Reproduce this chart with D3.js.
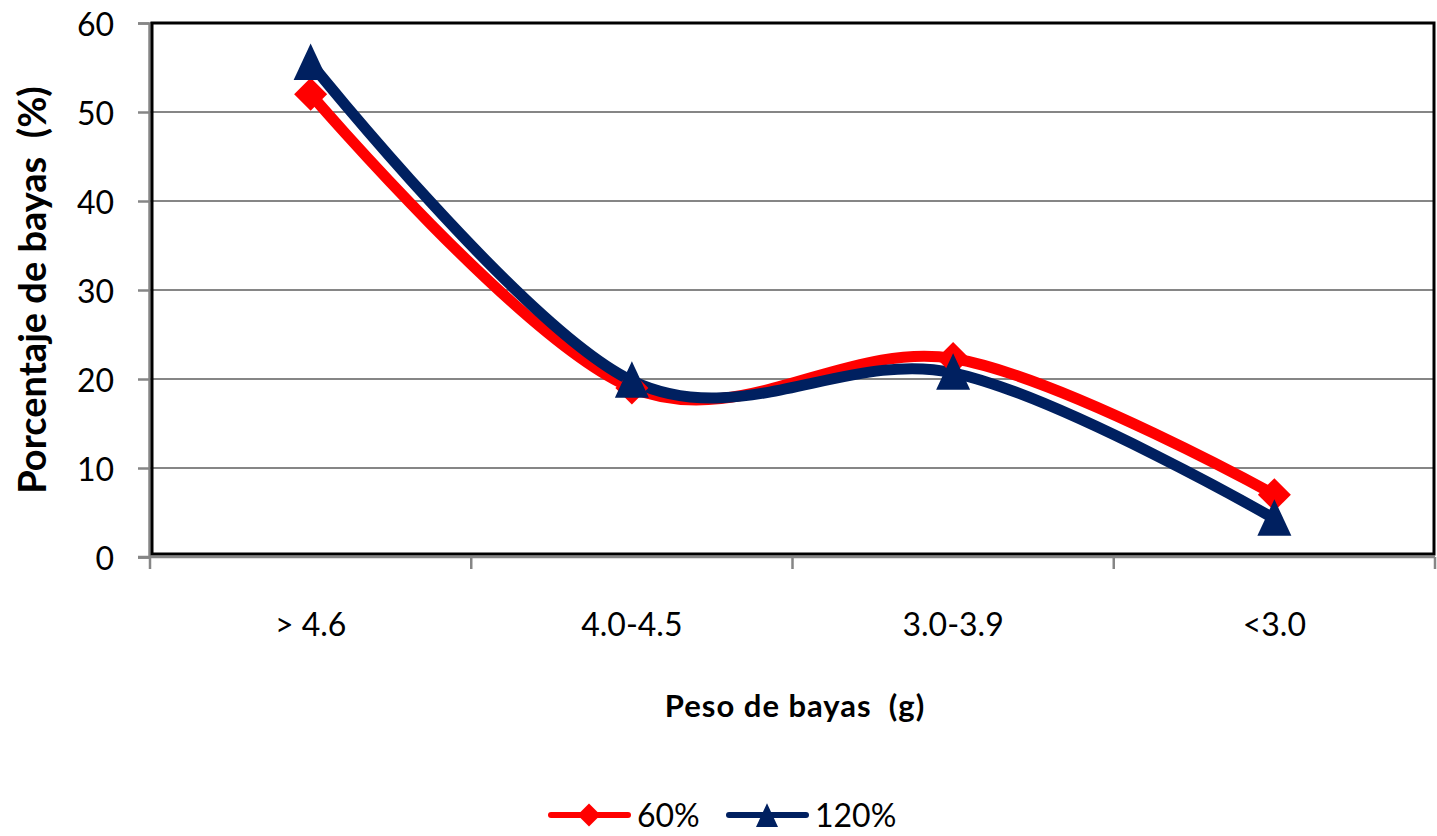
<!DOCTYPE html>
<html>
<head>
<meta charset="utf-8">
<script src="https://cdn.jsdelivr.net/npm/d3@7"></script>
<style>
  html, body { margin: 0; padding: 0; background: #fff; }
  svg { display: block; font-family: Lato, "Open Sans", sans-serif; }
</style>
</head>
<body>
<svg id="chart" width="1437" height="836"></svg>
<script>
// Berry weight classes and share of berries per class (%)
const categories = ["> 4.6", "4.0-4.5", "3.0-3.9", "<3.0"];
const seriesNames = ["60%", "120%"];
const values60 = [52.0, 19.0, 22.3, 7.0];
const values120 = [55.5, 19.8, 20.7, 4.3];
const yTicks = [0, 10, 20, 30, 40, 50, 60];

const colors = { "60%": "#ff0000", "120%": "#002060" };
const series = [
  { name: seriesNames[0], values: values60, marker: "diamond" },
  { name: seriesNames[1], values: values120, marker: "triangle" }
];

const svg = d3.select("#chart");
const margin = { left: 150, right: 1435, top: 23, bottom: 557 };

const x = d3.scaleBand().domain(categories).range([margin.left, margin.right]).paddingInner(0).paddingOuter(0);
const y = d3.scaleLinear().domain([0, 60]).range([margin.bottom, margin.top]);
const cx = c => x(c) + x.bandwidth() / 2;

// gridlines
svg.append("g")
  .selectAll("line")
  .data(yTicks.filter(t => t > 0))
  .join("line")
  .attr("x1", margin.left).attr("x2", margin.right)
  .attr("y1", d => y(d)).attr("y2", d => y(d))
  .attr("stroke", "#868686").attr("stroke-width", 2);

// y axis (gray line + outward ticks)
const yAxis = svg.append("g")
  .attr("transform", `translate(${margin.left - 1},0)`)
  .call(d3.axisLeft(y).tickValues(yTicks).tickSize(11).tickPadding(24).tickFormat(d3.format("d")));
yAxis.select(".domain").attr("stroke", "#868686").attr("stroke-width", 2.5);
yAxis.selectAll(".tick line").attr("stroke", "#868686").attr("stroke-width", 2.5);
yAxis.selectAll(".tick text").attr("font-size", 32).attr("fill", "#000")
  .attr("dy", "0.4em")
  .attr("font-family", "Lato, sans-serif");

// x axis with category boundaries as ticks
const xAxis = svg.append("g")
  .attr("transform", `translate(0,${margin.bottom})`);
xAxis.append("line")
  .attr("x1", margin.left - 12).attr("x2", margin.right)
  .attr("y1", 0).attr("y2", 0)
  .attr("stroke", "#868686").attr("stroke-width", 2.5);
const boundaries = categories.map(c => x(c)).concat([margin.right]);
xAxis.selectAll("line.tick")
  .data(boundaries)
  .join("line")
  .attr("class", "tick")
  .attr("x1", d => d).attr("x2", d => d)
  .attr("y1", 0).attr("y2", 12)
  .attr("stroke", "#868686").attr("stroke-width", 2.5);
xAxis.selectAll("text")
  .data(categories)
  .join("text")
  .attr("x", d => cx(d))
  .attr("y", 79)
  .attr("text-anchor", "middle")
  .attr("font-size", 32)
  .text(d => d);

// plot area border
svg.append("rect")
  .attr("x", margin.left + 2).attr("y", margin.top)
  .attr("width", margin.right - margin.left - 3)
  .attr("height", margin.bottom - margin.top - 3)
  .attr("fill", "none").attr("stroke", "#000").attr("stroke-width", 3);

// axis titles
svg.append("text")
  .attr("transform", `translate(46,${(margin.top + margin.bottom) / 2}) rotate(-90)`)
  .attr("text-anchor", "middle")
  .attr("font-size", 38).attr("font-weight", "bold")
  .attr("xml:space", "preserve")
  .text("Porcentaje de bayas  (%)");
svg.append("text")
  .attr("x", 795).attr("y", 717)
  .attr("text-anchor", "middle")
  .attr("font-size", 31).attr("font-weight", "bold")
  .attr("letter-spacing", 1)
  .attr("xml:space", "preserve")
  .text("Peso de bayas  (g)");

// smoothed series lines
const line = d3.line()
  .x((d, i) => cx(categories[i]))
  .y(d => y(d))
  .curve(d3.curveCardinal.tension(0));

const diamond = s => `M0,${-s}L${s},0L0,${s}L${-s},0Z`;
const triangle = s => `M0,${-s * 1.15}L${s},${s}L${-s},${s}Z`;

series.forEach(s => {
  svg.append("path")
    .datum(s.values)
    .attr("d", line)
    .attr("fill", "none")
    .attr("stroke", colors[s.name])
    .attr("stroke-width", 11)
    .attr("stroke-linecap", "round")
    .attr("stroke-linejoin", "round");
});
series.forEach(s => {
  svg.append("g")
    .selectAll("path")
    .data(s.values)
    .join("path")
    .attr("transform", (d, i) => `translate(${cx(categories[i])},${y(d)})`)
    .attr("d", s.marker === "diamond" ? diamond(16.5) : triangle(17))
    .attr("fill", colors[s.name]);
});

// legend
const legend = svg.append("g").attr("transform", "translate(0,815)");
const legendItems = [
  { name: "60%", x0: 551, marker: "diamond" },
  { name: "120%", x0: 729, marker: "triangle" }
];
legendItems.forEach(it => {
  legend.append("line")
    .attr("x1", it.x0).attr("x2", it.x0 + 77)
    .attr("y1", 0).attr("y2", 0)
    .attr("stroke", colors[it.name]).attr("stroke-width", 6)
    .attr("stroke-linecap", "round");
  legend.append("path")
    .attr("transform", `translate(${it.x0 + 38},${it.marker === "triangle" ? 1 : 0})`)
    .attr("d", it.marker === "diamond" ? diamond(11.5) : triangle(11))
    .attr("fill", colors[it.name]);
  legend.append("text")
    .attr("x", it.x0 + 86).attr("y", 12)
    .attr("font-size", 32)
    .text(it.name);
});
</script>
</body>
</html>
